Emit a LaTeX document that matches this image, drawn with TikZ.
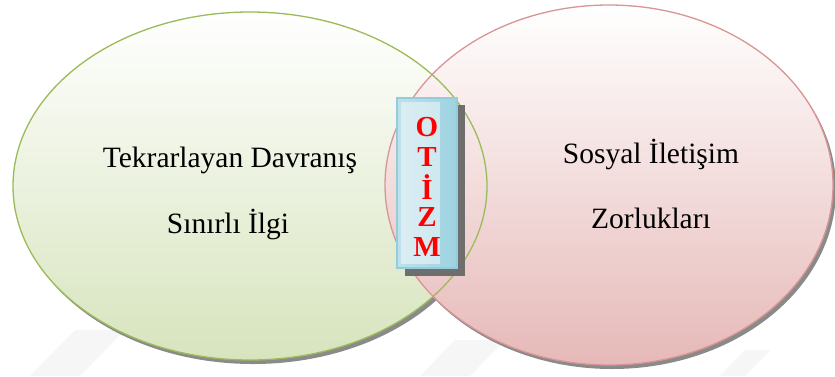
\documentclass[tikz,border=0pt]{standalone}
\usepackage{fontspec}
\setmainfont{Liberation Serif}
\definecolor{gline}{HTML}{9BBB59}
\definecolor{gfill}{HTML}{D7E4BD}
\definecolor{rline}{HTML}{D99594}
\definecolor{rfill}{HTML}{E6B9B8}
\definecolor{bline}{HTML}{93CDDD}
\definecolor{shad}{HTML}{8A8A8A}
\definecolor{wm}{HTML}{F6F6F6}
\tikzset{
  lbl/.style={font=\fontsize{29.5}{32}\selectfont, text=black},
  letter/.style={font=\bfseries\fontsize{29}{30}\selectfont, text=red},
}
\begin{document}
\begin{tikzpicture}[x=1pt,y=-1pt]
\useasboundingbox (0,0) rectangle (835,376);
\fill[white] (0,0) rectangle (835,376);
% faint watermark bands
\fill[wm] (30,376) -- (75,330) -- (125,330) -- (80,376) -- cycle;
\fill[wm] (420,376) -- (455,340) -- (505,340) -- (470,376) -- cycle;
\fill[wm] (720,376) -- (745,350) -- (770,350) -- (745,376) -- cycle;
% shadows
\fill[shad] (253,190) ellipse [x radius=237, y radius=174];
\fill[shad] (612,189) ellipse [x radius=224, y radius=180];
% fills
\shade[top color=white, bottom color=gfill] (250,186) ellipse [x radius=237, y radius=174];
\shade[top color=white, bottom color=rfill] (609,185) ellipse [x radius=224, y radius=180];
% outlines
\draw[gline, line width=1.3pt] (250,186) ellipse [x radius=237, y radius=174];
\draw[rline, line width=1.3pt] (609,185) ellipse [x radius=224, y radius=180];
% texts
\node[lbl] (t1) at (230,160) {Tekrarlayan Davranış};
\node[lbl] (t2) at (228,225) {Sınırlı İlgi};
\node[lbl] (t3) at (651,155) {Sosyal İletişim};
\node[lbl] (t4) at (651,218) {Zorlukları};
% box
\fill[shad!80!black] (405,105) rectangle (465,276);
\shade[left color=bline!60, right color=bline!90] (397,98) rectangle (457,268);
\fill[white, opacity=0.45] (401,102) rectangle (440,264);
\draw[bline, line width=1.2pt] (397,98) rectangle (457,268);
\node[letter] (o) at (427,127) {O};
\node[letter] (t) at (427,157) {T};
\node[letter] (i) at (427,187) {İ};
\node[letter] (z) at (427,217) {Z};
\node[letter] (m) at (427,247) {M};
\end{tikzpicture}
\end{document}
